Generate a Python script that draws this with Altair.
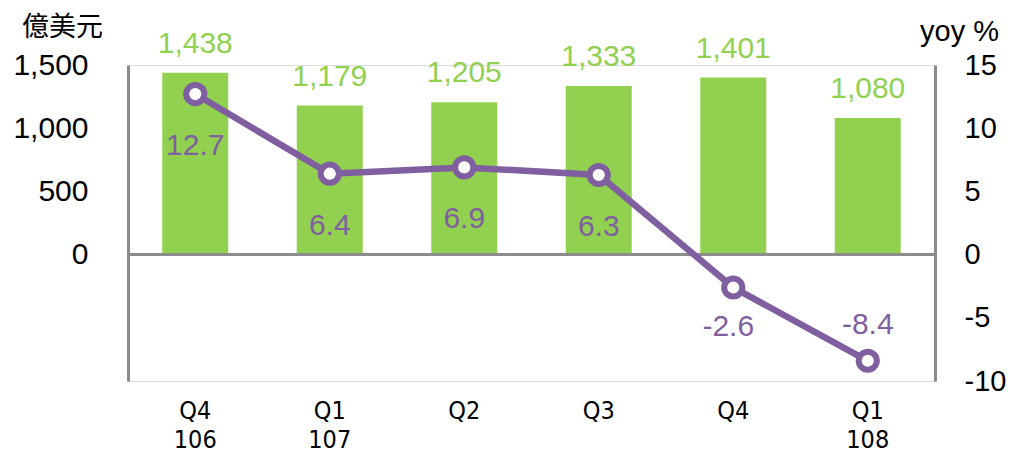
import altair as alt
import pandas as pd

quarters = ["Q4|106", "Q1|107", "Q2", "Q3", "Q4", "Q1|108"]
exports = [1438, 1179, 1205, 1333, 1401, 1080]
yoy = [12.7, 6.4, 6.9, 6.3, -2.6, -8.4]
label_pos = ["below", "below", "below", "below", "below2", "above"]

df = pd.DataFrame({"q": quarters, "exports": exports, "yoy": yoy, "pos": label_pos})

GREEN = "#92d050"
PURPLE = "#7f5f9f"
GRAY = "#8c8c8c"
NUM_FONT = "Liberation Sans"
NARROW = "'Liberation Sans Narrow', 'Arial Narrow', 'DejaVu Sans Condensed', 'Liberation Sans', sans-serif"

x = alt.X(
    "q:N", sort=quarters,
    scale=alt.Scale(paddingInner=0, paddingOuter=0),
    axis=alt.Axis(title=None, domain=False, ticks=False, labelAngle=0,
                  labelExpr="split(datum.label, '|')", labelFontSize=25,
                  labelFont=NARROW, labelColor="black",
                  labelPadding=17, labelLineHeight=29, labelBaseline="top"),
)

yl_scale = alt.Scale(domain=[-1000, 1500], nice=False, zero=False)
yr_scale = alt.Scale(domain=[-10, 15], nice=False, zero=False)

base = alt.Chart(df)

bars = base.mark_bar(size=66, color=GREEN).encode(
    x=x,
    y=alt.Y("exports:Q", scale=yl_scale,
            axis=alt.Axis(values=[0, 500, 1000, 1500],
                          labelExpr="format(datum.value, ',')", grid=False,
                          ticks=False, domainColor=GRAY, domainWidth=3,
                          labelFontSize=30, labelFont=NUM_FONT, labelColor="black",
                          labelPadding=40, title="億美元", titleAngle=0,
                          titleX=-66, titleY=-38, titleAlign="center",
                          titleBaseline="middle", titleFontSize=27,
                          titleFont="Noto Sans CJK TC", titleFontWeight="normal",
                          titleColor="black")),
)
bar_text = base.mark_text(color=GREEN, fontSize=30, font=NUM_FONT, dy=-29,
                          baseline="middle").encode(
    x=x, y=alt.Y("exports:Q", scale=yl_scale), text=alt.Text("exports:Q", format=","))
zero = base.mark_rule(color=GRAY, strokeWidth=3).encode(y=alt.datum(0))

left = alt.layer(bars, bar_text, zero)

yr = alt.Y("yoy:Q", scale=yr_scale,
           axis=alt.Axis(orient="right", values=[-10, -5, 0, 5, 10, 15],
                         labelExpr="'' + datum.value", grid=False, ticks=False,
                         domainColor=GRAY, domainWidth=3, labelFontSize=29,
                         labelFont=NUM_FONT, labelColor="black", labelPadding=29,
                         title="yoy %", titleAngle=0, titleX=24, titleY=-34,
                         titleAlign="center", titleBaseline="middle",
                         titleFontSize=29, titleFont=NUM_FONT,
                         titleFontWeight="normal", titleColor="black"))
yr_plain = alt.Y("yoy:Q", scale=yr_scale)

line = base.mark_line(color=PURPLE, strokeWidth=6.5).encode(x=x, y=yr)
pts = base.mark_point(shape="circle", filled=True, fill="white", stroke=PURPLE,
                      strokeWidth=6, size=330, opacity=1).encode(x=x, y=yr_plain)

lbl = base.transform_calculate(lbl="toString(datum.yoy)")
t_below = lbl.transform_filter("datum.pos == 'below'").mark_text(
    color=PURPLE, fontSize=30, font=NUM_FONT, dy=52, baseline="middle").encode(
    x=x, y=yr_plain, text="lbl:N")
t_below2 = lbl.transform_filter("datum.pos == 'below2'").mark_text(
    color=PURPLE, fontSize=30, font=NUM_FONT, dy=40, dx=-5, baseline="middle").encode(
    x=x, y=yr_plain, text="lbl:N")
t_above = lbl.transform_filter("datum.pos == 'above'").mark_text(
    color=PURPLE, fontSize=30, font=NUM_FONT, dy=-36, baseline="middle").encode(
    x=x, y=yr_plain, text="lbl:N")

right = alt.layer(line, pts, t_below, t_below2, t_above)

chart = alt.layer(left, right).resolve_scale(y="independent").properties(
    width=807, height=316,
    padding={"left": 120, "top": 57, "right": 72, "bottom": 72},
    autosize=alt.AutoSizeParams(type="none"),
).configure_view(stroke=None).configure(font=NUM_FONT)

chart.save("out.html", embed_options={"renderer": "svg", "actions": False})
